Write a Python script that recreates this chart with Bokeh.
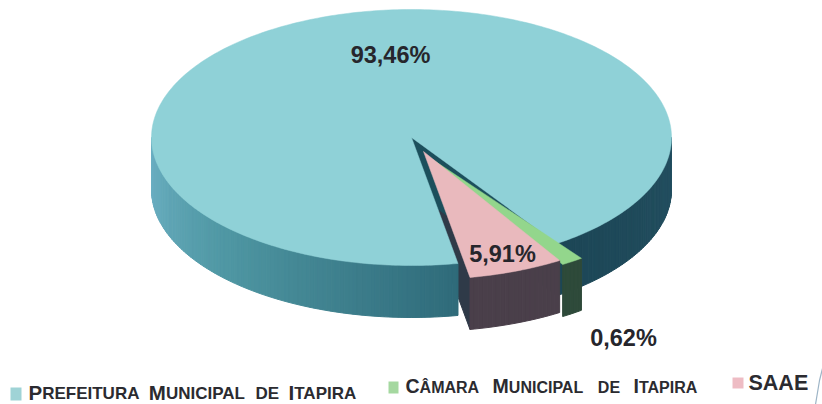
import math
from bokeh.plotting import figure
from bokeh.embed import file_html
from bokeh.resources import INLINE
from bokeh.core.properties import value

categories = ["Prefeitura Municipal de Itapira", "Câmara Municipal de Itapira", "SAAE"]
shares = [93.46, 0.62, 5.91]
share_labels = ["93,46%", "0,62%", "5,91%"]
colors_top = ["#8fd1d7", "#93d68c", "#e9b9bd"]
legend_colors = ["#9fd3d6", "#a5d8a0", "#eebcc4"]

CX, CY, RX, RY, DEPTH = 411, 137, 260, 128, 52
START = 10.3
MIN_SWEEP = 5.0
SAAE_OFF = (12, 14)
CAM_OFF = (15, 18)

total = sum(shares)
sw_saae = shares[2] / total * 360
sw_cam = shares[1] / total * 360
a_saae = (START, START + sw_saae)
a_cam = (a_saae[1], a_saae[1] + max(sw_cam, MIN_SWEEP))
a_main = (a_saae[1] + sw_cam + 0.2, START + 360)


def pt(a, off=(0, 0), dz=0):
    r = math.radians(a)
    return CX + off[0] + RX * math.sin(r), CY + off[1] + RY * math.cos(r) + dz


def arc(a0, a1, off=(0, 0), dz=0):
    n = max(2, int(abs(a1 - a0) / 1.0) + 1)
    return [pt(a0 + (a1 - a0) * i / (n - 1), off, dz) for i in range(n)]


def hexmix(c1, c2, t):
    a = [int(c1[i:i + 2], 16) for i in (1, 3, 5)]
    b = [int(c2[i:i + 2], 16) for i in (1, 3, 5)]
    return "#%02x%02x%02x" % tuple(round(x + (y - x) * t) for x, y in zip(a, b))


p = figure(width=822, height=404, x_range=(0, 822), y_range=(404, 0),
           toolbar_location=None, output_backend="svg", min_border=0)
p.axis.visible = False
p.grid.visible = False
p.outline_line_color = None


def poly(points, color, lw=1.0):
    p.patch([q[0] for q in points], [q[1] for q in points], fill_color=color, line_color=color, line_width=lw)


def side(a0, a1, off, color_fn, step=1.0):
    a = a0
    while a < a1 - 1e-6:
        b = min(a + step, a1)
        top = arc(a, b, off)
        bot = arc(b, a, off, DEPTH)
        poly(top + bot, color_fn((a + b) / 2))
        a = b


c_s = (CX + SAAE_OFF[0], CY + SAAE_OFF[1])
e_s = pt(a_saae[0], SAAE_OFF)
poly([c_s, e_s, (e_s[0], e_s[1] + DEPTH), (c_s[0], c_s[1] + DEPTH)], "#2f3a48")


def main_side_color(a):
    if a < 180:
        return hexmix("#1c4656", "#234f60", min(1, max(0, (a - 34) / 56)))
    t = (a - 270) / 100
    if t < 0.45:
        return hexmix("#6fb2c6", "#4f97a3", t / 0.45)
    return hexmix("#4f97a3", "#2f6b7a", (t - 0.45) / 0.55)


e_r = pt(a_main[0])
poly([(CX, CY), e_r, (e_r[0], e_r[1] + DEPTH), (CX, CY + DEPTH)], "#1c4f5c")
side(a_main[0], 90, (0, 0), main_side_color)
side(270, a_main[1], (0, 0), main_side_color)
poly([(CX, CY)] + arc(a_main[0], a_main[1]), colors_top[0], 0.5)

side(a_cam[0], a_cam[1], CAM_OFF, lambda a: "#2e4a3a")
poly([(CX + CAM_OFF[0], CY + CAM_OFF[1])] + arc(a_cam[0], a_cam[1], CAM_OFF), colors_top[1], 0.5)

side(a_saae[0], a_saae[1], SAAE_OFF, lambda a: "#4a3f4a")
poly([c_s] + arc(a_saae[0], a_saae[1], SAAE_OFF), colors_top[2], 0.5)

p.text([390, 623, 502], [54, 337, 253], text=share_labels, text_font=value("Liberation Sans"),
       text_font_style="bold", text_font_size="23.5px", text_color="#26262c",
       text_align="center", text_baseline="middle")

W = dict(A=722, B=722, C=722, D=722, E=667, F=611, I=278, L=611, M=833, N=722, P=667, R=722, S=667, T=611, U=722)
W["Â"] = 722


def legend_entry(name, x0, x1, baseline, big, small):
    words = name.upper().split()
    widths = []
    for w, orig in zip(words, name.split()):
        head = big if orig[0].isupper() else small
        widths.append(W[w[0]] * head / 1000 + sum(W[c] for c in w[1:]) * small / 1000)
    gap = (x1 - x0 - sum(widths)) / (len(words) - 1) if len(words) > 1 else 0
    x = x0
    for w, orig, wd in zip(words, name.split(), widths):
        head = big if orig[0].isupper() else small
        p.text([x], [baseline - 0.36 * head], text=[w[0]], text_font=value("Liberation Sans"), text_font_style="bold",
               text_font_size=f"{head}px", text_color="#2b2b30", text_baseline="middle")
        if len(w) > 1:
            p.text([x + W[w[0]] * head / 1000], [baseline - 0.36 * small], text=[w[1:]],
                   text_font=value("Liberation Sans"), text_font_style="bold",
                   text_font_size=f"{small}px", text_color="#2b2b30", text_baseline="middle")
        x += wd + gap


legend_entry(categories[0], 28, 357, 399, 20.5, 17)
legend_entry(categories[1], 405, 698, 393, 19.5, 16)
legend_entry(categories[2], 748, 807, 390, 21.5, 21.5)
p.quad(left=[10, 388, 732], right=[21, 398, 743], top=[387, 381, 377], bottom=[400, 393, 388],
       fill_color=legend_colors, line_color=None)

# the scan's page-edge stroke at the lower right corner
edge_x = [822, 819, 817, 815]
edge_y = [368, 380, 392, 404]
p.line(edge_x, edge_y, line_color="#9db4c6", line_width=1.2)

open("out.html", "w").write(file_html(p, INLINE))
